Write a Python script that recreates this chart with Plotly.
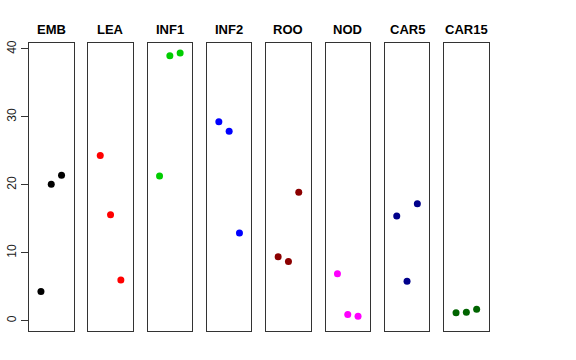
import plotly.graph_objects as go

categories = ["EMB", "LEA", "INF1", "INF2", "ROO", "NOD", "CAR5", "CAR15"]
colors = ["#000000", "#FF0000", "#00CD00", "#0000FF", "#8B0000", "#FF00FF", "#00008B", "#006400"]
positions = [1, 2, 3]
values = {
    "EMB":   [4.3, 20.1, 21.4],
    "LEA":   [24.3, 15.6, 6.0],
    "INF1":  [21.3, 39.0, 39.4],
    "INF2":  [29.3, 27.9, 12.9],
    "ROO":   [9.4, 8.7, 18.9],
    "NOD":   [6.9, 0.9, 0.65],
    "CAR5":  [15.4, 5.8, 17.2],
    "CAR15": [1.15, 1.25, 1.7],
}
y_ticks = [0, 10, 20, 30, 40]

W, H = 576, 360
left0, step, pw = 29.0, 59.3, 44.5
top_px, bot_px = 43.0, 331.0
title_px = 29.0

fig = go.Figure()
layout = dict(
    width=W, height=H, margin=dict(l=0, r=0, t=0, b=0, autoexpand=False),
    paper_bgcolor="white", plot_bgcolor="white", showlegend=False,
    font=dict(family="Liberation Sans, Arial, sans-serif", size=12, color="black"),
)
annotations = []
for i, cat in enumerate(categories):
    n = "" if i == 0 else str(i + 1)
    xl = (left0 + i * step) / W
    xr = (left0 + i * step + pw) / W
    fig.add_trace(go.Scatter(
        x=positions, y=values[cat], mode="markers",
        marker=dict(color=colors[i], size=7),
        xaxis="x" + n, yaxis="y" + n, hoverinfo="x+y",
    ))
    layout["xaxis" + n] = dict(
        domain=[xl, xr], range=[-0.16, 4.16], showticklabels=False, ticks="",
        showgrid=False, zeroline=False, showline=True, linecolor="#333", linewidth=1,
        mirror=True, anchor="y" + n, fixedrange=True, automargin=False,
    )
    ya = dict(
        domain=[1 - bot_px / H, 1 - top_px / H], range=[-1.52, 40.88],
        showgrid=False, zeroline=False, showline=True, linecolor="#333", linewidth=1,
        mirror=True, anchor="x" + n, fixedrange=True, automargin=False,
    )
    if i == 0:
        ya.update(tickvals=y_ticks, ticks="outside", ticklen=7, tickcolor="#333",
                  tickangle=-90, tickfont=dict(size=12, color="#222"))
    else:
        ya.update(showticklabels=False, ticks="")
    layout["yaxis" + n] = ya
    annotations.append(dict(
        text="<b>" + cat + "</b>", x=(xl + xr) / 2, y=1 - title_px / H,
        xref="paper", yref="paper", showarrow=False,
        font=dict(size=13, color="black"), xanchor="center", yanchor="middle",
    ))
layout["annotations"] = annotations
fig.update_layout(**layout)
fig.write_html(
    "out.html",
    config={"displayModeBar": False},
    post_script="document.body.style.margin='0';document.body.style.overflow='hidden';",
)
